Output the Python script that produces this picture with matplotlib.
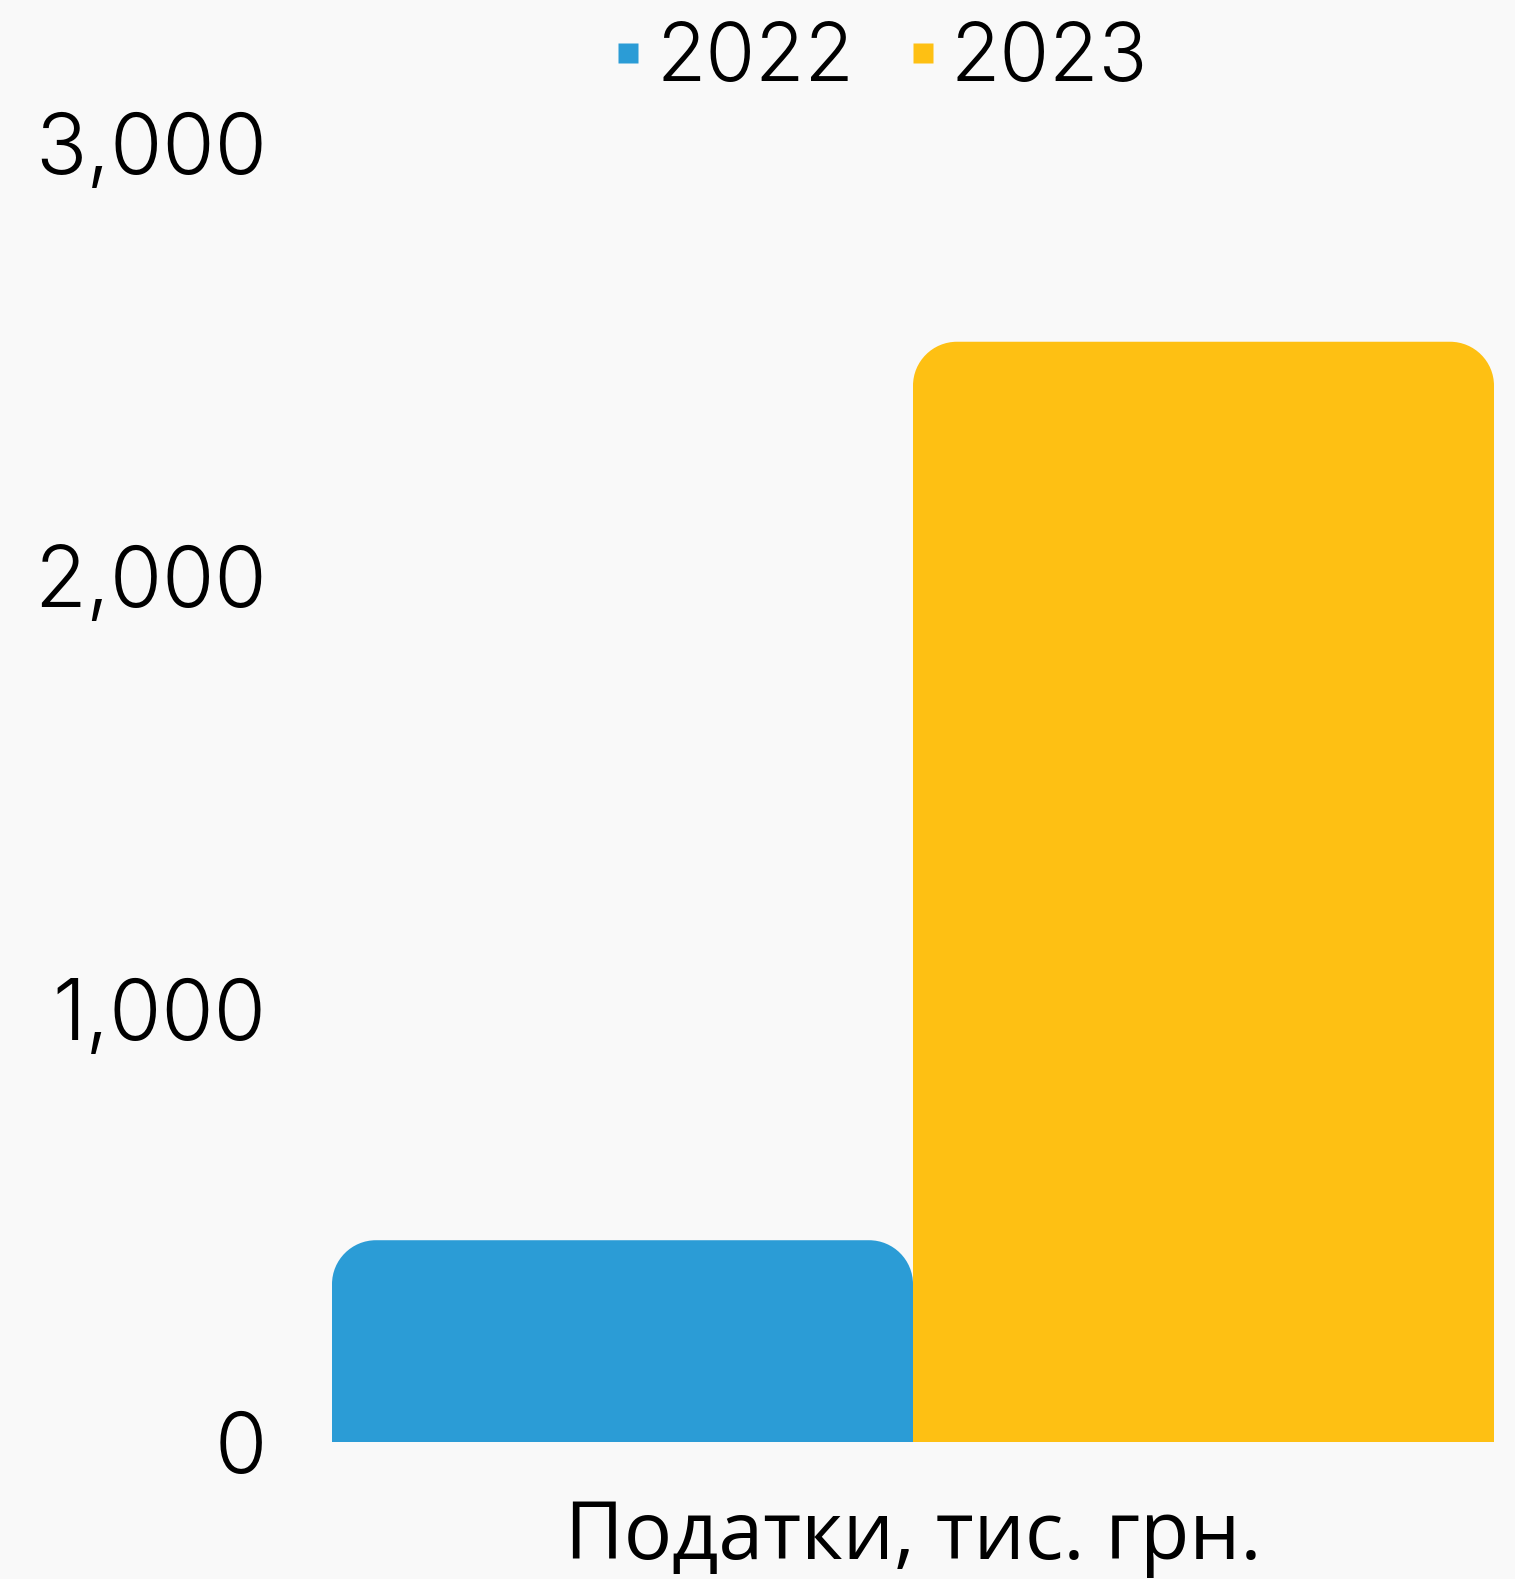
import numpy as np
import matplotlib
matplotlib.use("Agg")
import matplotlib.pyplot as plt
from matplotlib.path import Path
from matplotlib.patches import PathPatch
from matplotlib.lines import Line2D

plt.rcParams['font.family'] = ['Inter', 'DejaVu Sans']
plt.rcParams['font.weight'] = 350

category = "Податки, тис. грн."
years = ["2022", "2023"]
values = [466, 2541]
colors = ["#2b9cd6", "#fec013"]
y_ticks = [0, 1000, 2000, 3000]
y_tick_labels = ["0", "1,000", "2,000", "3,000"]

W, H, DPI = 1515, 1579, 100
fig = plt.figure(figsize=(W / DPI, H / DPI), dpi=DPI, facecolor="#f9f9f9")
ax = fig.add_axes([332 / W, 1 - 1442 / H, (1494 - 332) / W, (1442 - 143) / H])
ax.set_facecolor("#f9f9f9")

bar_w = 0.4
xs = [-bar_w / 2, bar_w / 2]
ax.set_xlim(-bar_w, bar_w)
ax.set_ylim(0, 3000)

# corner radius in pixels -> data units
r_px = 44
p0 = ax.transData.transform((0, 0))
p1 = ax.transData.transform((1, 1))
rx = r_px / (p1[0] - p0[0])
ry = r_px / (p1[1] - p0[1])
k = 0.5523

for xc, v, c in zip(xs, values, colors):
    x0, x1 = xc - bar_w / 2, xc + bar_w / 2
    verts = [(x0, 0), (x0, v - ry),
             (x0, v - ry + k * ry), (x0 + rx - k * rx, v), (x0 + rx, v),
             (x1 - rx, v),
             (x1 - rx + k * rx, v), (x1, v - ry + k * ry), (x1, v - ry),
             (x1, 0), (x0, 0)]
    codes = [Path.MOVETO, Path.LINETO,
             Path.CURVE4, Path.CURVE4, Path.CURVE4,
             Path.LINETO,
             Path.CURVE4, Path.CURVE4, Path.CURVE4,
             Path.LINETO, Path.CLOSEPOLY]
    ax.add_patch(PathPatch(Path(verts, codes), facecolor=c, edgecolor="none"))

ax.set_yticks(y_ticks)
ax.set_yticklabels(y_tick_labels)
ax.set_xticks([0])
ax.set_xticklabels([category], family=['Open Sans', 'DejaVu Sans'], weight='normal')
ax.tick_params(axis="y", length=0, pad=47, labelsize=61)
ax.tick_params(axis="x", length=0, pad=40, labelsize=58)
for s in ax.spines.values():
    s.set_visible(False)

handles = [Line2D([], [], marker="s", linestyle="none", markersize=14,
                  markerfacecolor=c, markeredgecolor="none") for c in colors]
fig.legend(handles, years, loc="center", bbox_to_anchor=(876 / W, 1 - 60 / H),
           ncol=2, frameon=False, fontsize=58, handletextpad=0.05,
           columnspacing=0.55, handlelength=0.6)

fig.savefig("out.png", dpi=DPI, facecolor=fig.get_facecolor())
